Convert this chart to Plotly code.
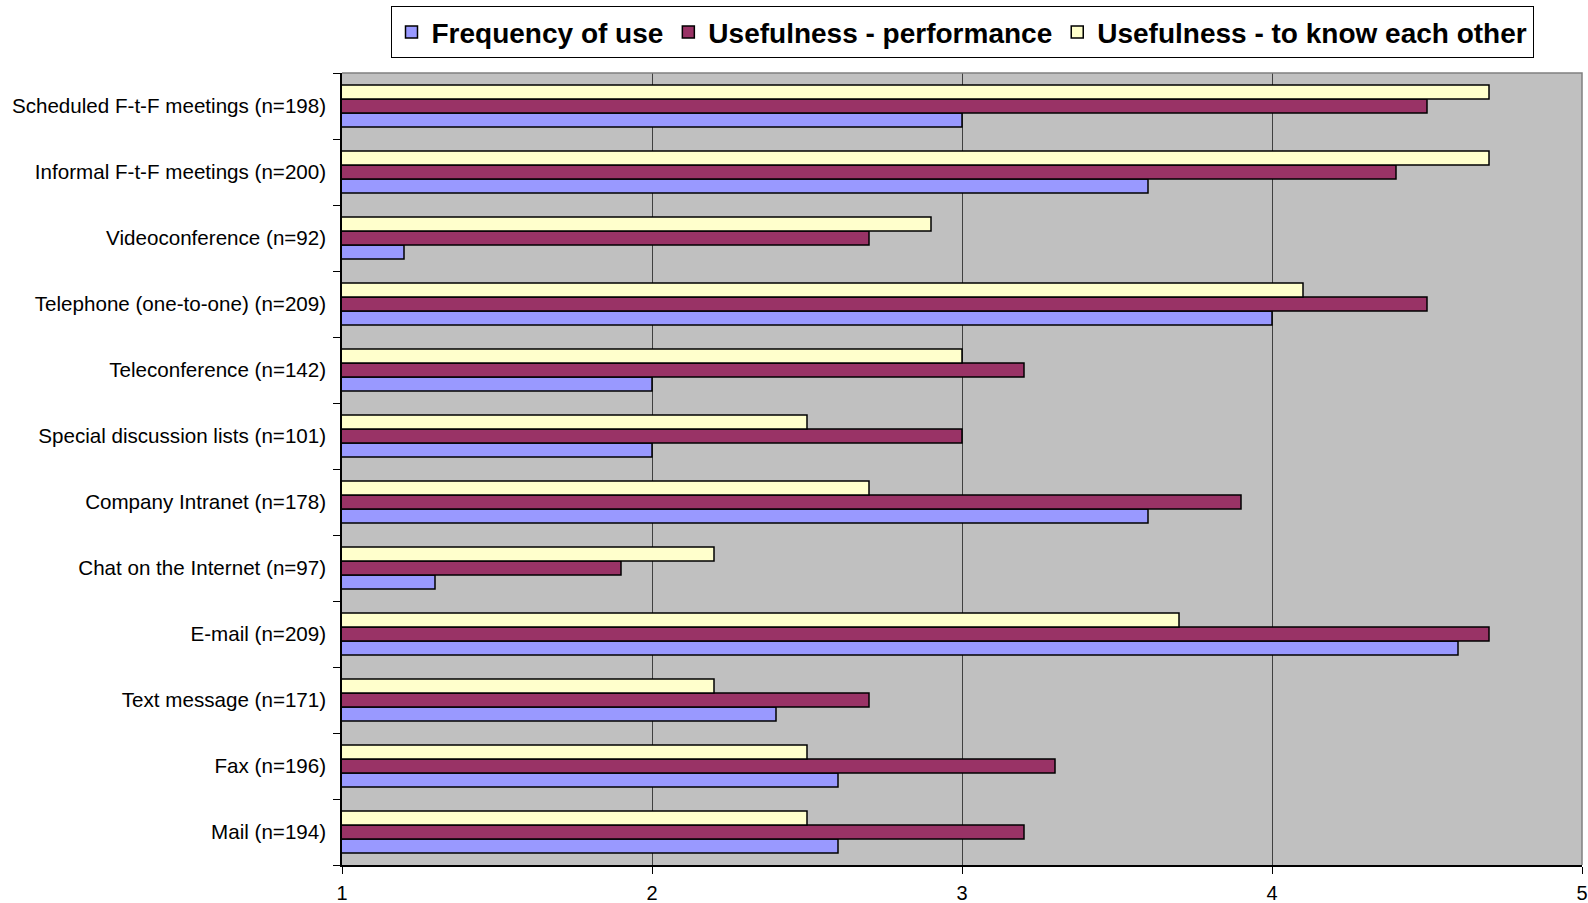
import plotly.graph_objects as go

# Communication channels, listed top to bottom as they appear on the chart
categories = [
    "Scheduled F-t-F meetings (n=198)",
    "Informal F-t-F meetings (n=200)",
    "Videoconference (n=92)",
    "Telephone (one-to-one) (n=209)",
    "Teleconference (n=142)",
    "Special discussion lists (n=101)",
    "Company Intranet (n=178)",
    "Chat on the Internet (n=97)",
    "E-mail (n=209)",
    "Text message (n=171)",
    "Fax (n=196)",
    "Mail (n=194)",
]

frequency_of_use = [3.0, 3.6, 1.2, 4.0, 2.0, 2.0, 3.6, 1.3, 4.6, 2.4, 2.6, 2.6]
usefulness_performance = [4.5, 4.4, 2.7, 4.5, 3.2, 3.0, 3.9, 1.9, 4.7, 2.7, 3.3, 3.2]
usefulness_know_each_other = [4.7, 4.7, 2.9, 4.1, 3.0, 2.5, 2.7, 2.2, 3.7, 2.2, 2.5, 2.5]

x_ticks = [1, 2, 3, 4, 5]

series = [
    ("Frequency of use", frequency_of_use, "#9999FF"),
    ("Usefulness - performance", usefulness_performance, "#993366"),
    ("Usefulness - to know each other", usefulness_know_each_other, "#FFFFCC"),
]

font_family = "Arial, Liberation Sans, sans-serif"

fig = go.Figure()
for name, values, color in series:
    fig.add_trace(go.Bar(
        y=categories,
        x=values,
        name=name,
        orientation="h",
        marker=dict(color=color, line=dict(color="black", width=1.5)),
    ))

fig.update_layout(
    width=1588,
    height=903,
    barmode="group",
    bargap=0.365,
    bargroupgap=0,
    plot_bgcolor="#C0C0C0",
    paper_bgcolor="white",
    margin=dict(l=342, r=6, t=70, b=38),
    font=dict(family=font_family, size=20.6, color="black"),
    showlegend=True,
    legend=dict(
        orientation="h",
        x=0.5,
        xanchor="center",
        y=1.0 + 67 / 795,
        yanchor="top",
        bordercolor="black",
        borderwidth=1,
        bgcolor="white",
        font=dict(family=font_family, size=28, color="black", weight="bold"),
        traceorder="normal",
        itemwidth=30,
    ),
    xaxis=dict(
        range=[1, 5],
        tickvals=x_ticks,
        ticktext=[str(t) for t in x_ticks],
        tickfont=dict(size=20),
        showgrid=True,
        gridcolor="#404040",
        gridwidth=1,
        showline=True,
        linecolor="black",
        linewidth=1.5,
        ticks="outside",
        ticklen=7,
        tickcolor="black",
        ticklabelstandoff=2,
        zeroline=False,
        automargin=False,
        fixedrange=True,
    ),
    yaxis=dict(
        categoryorder="array",
        categoryarray=list(reversed(categories)),
        showgrid=False,
        showline=True,
        linecolor="black",
        linewidth=1.5,
        ticks="outside",
        tickson="boundaries",
        ticklen=7,
        tickcolor="black",
        ticklabelstandoff=10,
        automargin=False,
        fixedrange=True,
    ),
    shapes=[
        dict(
            type="path",
            xref="paper",
            yref="paper",
            path="M 0 1 L 1 1 L 1 0",
            line=dict(color="#808080", width=1.5),
            layer="above",
        )
    ],
)

fig.write_html("out.html")
